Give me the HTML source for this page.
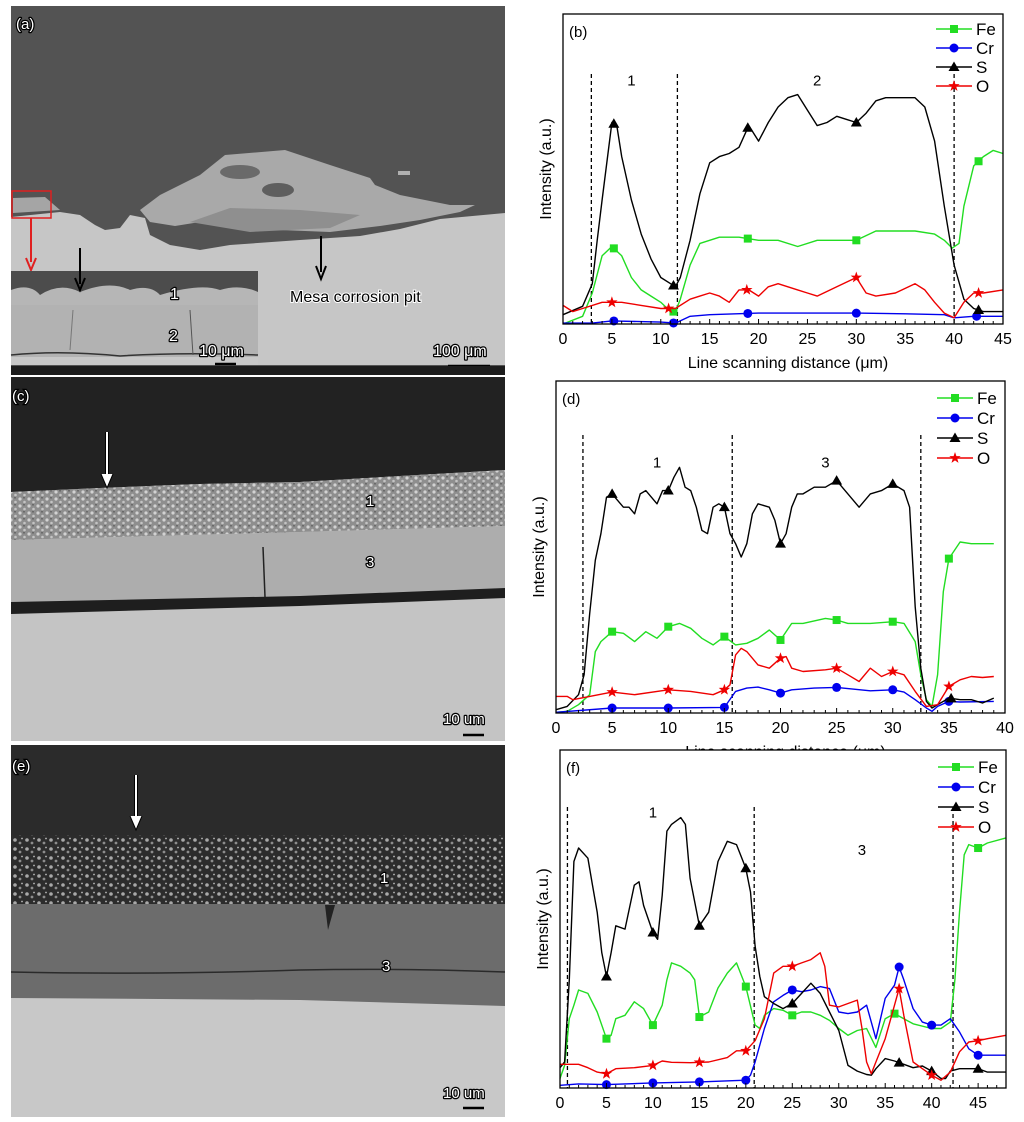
<!DOCTYPE html>
<html><head><meta charset="utf-8"><style>
body{margin:0;background:#fff;}
svg{display:block;font-family:"Liberation Sans",Arial,sans-serif;}
</style></head><body>
<svg id="fig" width="1024" height="1122" viewBox="0 0 1024 1122" xmlns="http://www.w3.org/2000/svg">
<defs>
<pattern id="speck" width="9" height="7" patternUnits="userSpaceOnUse">
<rect width="9" height="7" fill="#8e8e8e"/><circle cx="2" cy="2" r="1.6" fill="#d2d2d2"/><circle cx="6.5" cy="5" r="1.3" fill="#c4c4c4"/><rect x="5" y="0" width="2" height="1.5" fill="#6a6a6a"/>
</pattern>
<pattern id="speck2" width="12" height="9" patternUnits="userSpaceOnUse">
<rect width="12" height="9" fill="#2c2c2c"/><circle cx="3" cy="3" r="1.8" fill="#a8a8a8"/><circle cx="8" cy="6" r="1.4" fill="#8c8c8c"/><circle cx="10" cy="1.5" r="0.9" fill="#b8b8b8"/>
</pattern>
</defs>

<!-- Panel a -->
<g>
<rect x="11" y="6" width="494" height="369" fill="#535353"/>
<path d="M11,217 L60,212 L80,215 L95,225 L105,230 L120,228 L130,215 L145,218 L150,235 L170,245 L200,250 L230,245 L300,240 L360,236 L400,229 L440,219 L505,213 L505,365 L11,365 Z" fill="#c6c6c6"/>
<path d="M140,210 L160,195 L200,175 L225,155 L285,150 L330,165 L370,178 L375,185 L400,195 L450,205 L475,205 L460,212 L420,220 L380,226 L330,232 L280,230 L230,226 L200,222 L175,226 L150,222 Z" fill="#a9a9a9"/>
<ellipse cx="240" cy="172" rx="20" ry="7" fill="#6a6a6a"/>
<ellipse cx="278" cy="190" rx="16" ry="7" fill="#5e5e5e"/>
<path d="M190,222 L230,208 L300,210 L360,215 L330,228 L250,232 Z" fill="#8f8f8f"/>
<rect x="398" y="171" width="12" height="4" fill="#b0b0b0"/>
<path d="M13,198 L45,197 L60,210 L13,213 Z" fill="#a5a5a5"/>
<rect x="12" y="191" width="39" height="27" fill="none" stroke="#e02020" stroke-width="1.5"/>
<line x1="31" y1="218" x2="31" y2="262" stroke="#e02020" stroke-width="2"/>
<path d="M26,258 L31,270 L36,258" fill="none" stroke="#e02020" stroke-width="2"/>
<g>
<rect x="11" y="271" width="247" height="94" fill="#4c4c4c"/>
<path d="M11,290 Q30,283 40,295 Q60,282 80,292 Q110,280 130,290 Q150,284 160,295 Q200,283 220,290 Q240,284 258,292 L258,308 L11,308 Z" fill="#b6b6b6"/>
<rect x="11" y="305" width="247" height="52" fill="#b2b2b2"/>
<path d="M11,355 Q60,350 120,356 Q180,352 258,355" stroke="#333" stroke-width="1.5" fill="none"/>
<rect x="11" y="357" width="247" height="8" fill="#c8c8c8"/>
<line x1="73" y1="310" x2="70" y2="350" stroke="#777" stroke-width="1"/>
<line x1="190" y1="310" x2="193" y2="355" stroke="#555" stroke-width="1"/>
</g>
<line x1="80" y1="248" x2="80" y2="284" stroke="#000" stroke-width="2"/>
<path d="M75,278 L80,290 L85,278" fill="none" stroke="#000" stroke-width="2"/>
<line x1="321" y1="236" x2="321" y2="272" stroke="#000" stroke-width="2"/>
<path d="M316,266 L321,279 L326,266" fill="none" stroke="#000" stroke-width="2"/>
<g font-size="16" fill="#fff" stroke="#000" stroke-width="2.5" paint-order="stroke" stroke-linejoin="round">
<text x="170" y="299">1</text>
<text x="169" y="341">2</text>
<text x="199" y="356">10 μm</text>
<text x="433" y="356">100 μm</text>
<text x="16" y="29" font-size="15">(a)</text>
</g>
<text x="290" y="302" font-size="16" fill="#000" stroke="#fff" stroke-width="2" paint-order="stroke">Mesa corrosion pit</text>
<line x1="215" y1="364" x2="236" y2="364" stroke="#000" stroke-width="2.5"/>
<line x1="448" y1="366" x2="490" y2="366" stroke="#000" stroke-width="2.5"/>
<rect x="11" y="366" width="494" height="9" fill="#1c1c1c"/>
</g>

<!-- Panel c -->
<g>
<rect x="11" y="377" width="494" height="364" fill="#c4c4c4"/>
<path d="M11,377 L505,377 L505,470 L400,476 L300,482 L200,484 L100,488 L11,492 Z" fill="#222"/>
<path d="M11,492 L100,488 L200,484 L300,482 L400,476 L505,470 L505,526 L300,532 L11,540 Z" fill="url(#speck)"/>
<path d="M11,540 L300,532 L505,526 L505,518 L505,590 L300,597 L11,605 Z" fill="#adadad"/>
<line x1="263" y1="547" x2="265" y2="597" stroke="#222" stroke-width="1.5"/>
<path d="M11,602 L300,596 L505,588 L505,598 L300,606 L11,614 Z" fill="#1e1e1e"/>
<text x="12" y="401" font-size="15" fill="#fff" stroke="#000" stroke-width="2.5" paint-order="stroke">(c)</text>
<line x1="107" y1="432" x2="107" y2="480" stroke="#000" stroke-width="4"/><line x1="107" y1="432" x2="107" y2="480" stroke="#fff" stroke-width="2"/>
<path d="M101,474 L107,488 L113,474" fill="#fff" stroke="#000" stroke-width="1"/>
<g font-size="15" fill="#fff" stroke="#000" stroke-width="2.5" paint-order="stroke" stroke-linejoin="round">
<text x="366" y="506">1</text>
<text x="366" y="567">3</text>
<text x="443" y="724">10 um</text>
</g>
<line x1="463" y1="735" x2="484" y2="735" stroke="#000" stroke-width="2.5"/>
</g>

<!-- Panel e -->
<g>
<rect x="11" y="745" width="494" height="372" fill="#c8c8c8"/>
<rect x="11" y="745" width="494" height="90" fill="#2b2b2b"/>
<rect x="11" y="835" width="494" height="70" fill="url(#speck2)"/>
<path d="M11,904 L505,904 L505,1006 L300,1000 L11,998 Z" fill="#6c6c6c"/>
<path d="M11,972 Q150,975 300,970 Q400,968 505,972" stroke="#2a2a2a" stroke-width="1.5" fill="none"/>
<path d="M325,905 L335,905 L328,930 Z" fill="#222"/>
<text x="12" y="771" font-size="15" fill="#fff" stroke="#000" stroke-width="2.5" paint-order="stroke">(e)</text>
<line x1="136" y1="775" x2="136" y2="822" stroke="#000" stroke-width="4"/><line x1="136" y1="775" x2="136" y2="822" stroke="#fff" stroke-width="2"/>
<path d="M130,816 L136,830 L142,816" fill="#fff" stroke="#000" stroke-width="1"/>
<g font-size="15" fill="#fff" stroke="#000" stroke-width="2.5" paint-order="stroke" stroke-linejoin="round">
<text x="380" y="883">1</text>
<text x="382" y="971">3</text>
<text x="443" y="1098">10 um</text>
</g>
<line x1="463" y1="1108" x2="484" y2="1108" stroke="#000" stroke-width="2.5"/>
</g>

<g id="charts"></g>
</svg>
<script>
// ===== Chart (b) data =====
const bFeX=[0,2,3,4,5,6,7,8,9,10,11,11.5,12,13,14,16,18,20,22,24,26,28,30,32,34,36,38,39,39.8,40.5,41,42,43,44,45];
const bFeY=[0,2.5,10,22,25,22,15,11,9,7,4,4,8,19,26,28,28,27,27,25,27,27,27,30,30,30,29,27,24.5,26,38,51,54,56,55];
const bCrX=[0,3,5,10,11.5,13,15,20,25,30,35,39,40,42,45];
const bCrY=[0.3,0.3,1,0.6,0.3,2.5,3,3.5,3.5,3.5,3.3,3,2,2.5,2.5];
const bSX=[0,2,3,3.5,4,5,5.5,6,7,8,9,10,11,11.5,12,13,14,15,16,17,18,19,20,21,22,23,24,25,26,27,28,29,30,31,32,33,34,35,36,37,38,39,40,41,42,43,45];
const bSY=[3,5.7,13,27,40,65,64,54,40,29,21,15,13,12,15,27,42,52,54,55,57,64,59,65,70,73,74,69,64,65,67,66,65,68,72,73,73,73,73,70,59,38,19,8,5,4,4];
const bOX=[0,1,2,4,5,6,8,10,11.5,13,14,15,16,17,18,19,20,21,22,24,25,26,28,30,31,32,34,36,37,38,39,40,41,42,43,45];
const bOY=[6,4,5,7,7,7,6,5,5,8,9,10,9,7,11,11,9,12,13,11,10,9,12,15,10,9,10,13,11,7,3.5,2,7,10,10,11];
const bMarkFe=[5.2,11.3,18.9,30,42.5], bMarkCr=[5.2,11.3,18.9,30,42.3], bMarkS=[5.2,11.3,18.9,30,42.5], bMarkO=[5,10.8,18.8,30,42.5];
const bDividers=[2.9,11.7,40];
const bXTicks=[0,5,10,15,20,25,30,35,40,45];

// ===== Chart (d) data =====
const dSX=[0,1,2,2.5,3,3.5,4,4.5,5,6,6.5,7,7.5,8,9,9.5,10,10.5,11,11.5,12,12.5,13,13.5,14,14.5,15,15.5,16,16.5,17,17.5,18,19,19.5,20,20.5,21,21.5,22,23,24,25,26,27,28,29,30,31,31.5,32,32.5,33,33.5,34,35,36,37,38,39];
const dSY=[1,2,5.5,11.5,30,46,54,65,66,62,62,60,66,67,63,67,67,71,74,68,67,62,55,54,62,63,62,54,51,47,51,60,63,62,58,51,54,62,66,66,68,68,70,66,62,66,67,69,67,62,32,13.5,3.5,1.5,2.5,4.5,4,4,3,4.5];
const dFeX=[0,1,2,3,3.5,4,5,6,7,8,9,10,11,12,13,14,15,16,17,18,19,20,21,22,24,25,26,28,30,31,32,32.5,33,33.5,34,34.5,35,36,37,38,39];
const dFeY=[0.2,0.5,2.5,5.5,18.5,21.5,24.5,24,21.5,24.5,22.5,26,27,25.5,22.5,20.5,23,20.5,21,22.5,25,22,27,27,28.5,28,27,27,27.5,27,21.5,11.5,4,2,11.5,36.5,46.5,51.5,51,51,51];
const dOX=[0,1,1.5,3,5,7,10,12,14,15,15.5,16,16.5,17,18,19,20,20.5,21,22,24,25,26,27,28,29,30,31,32,33,34,35,36,37,38,39];
const dOY=[5,5,4,5,6.3,5.5,7,6.5,5.5,7,8.5,17.5,19.5,18.5,14.5,13.5,16.5,17,13.5,12.5,13,13.5,11.5,9.5,13.5,11,12.5,11.5,6.5,2,2.5,8,10,11,10.7,11];
const dCrX=[0,5,10,15,16,17,18,19,20,21,23,25,28,30,31,32,33,33.5,34,35,36,39];
const dCrY=[0.2,1.5,1.5,1.7,6.5,7.5,7.8,7,6,7,7.5,7.7,6.7,7,6.3,4,1.5,0.5,2,3.5,3.3,3.5];
const dMarkFe=[5,10,15,20,25,30,35], dMarkCr=[5,10,15,20,25,30,35], dMarkS=[5,10,15,20,25,30,35.2], dMarkO=[5,10,15,20,25,30,35];
const dDividers=[2.4,15.7,32.5];
const dXTicks=[0,5,10,15,20,25,30,35,40];

// ===== Chart (f) data =====
const fSX=[0,0.5,1,1.5,2,3,3.5,4,4.5,5,5.5,6,7,8,8.5,9,10,10.5,11,11.5,12,13,13.5,14,15,16,17,18,19,20,20.5,21,21.5,22,23,24,25,26,27,28,29,30,31,32,33,33.5,34,35,36,37,38,39,40,41,41.5,42,43,45,46,48];
const fSY=[6,7.7,32,67,71,68,60,52,40,33,40,48,47,60,61,54,46,44,57,76,78,80,78,62,48,52,67,73,72,65,58,42,33,27,25,23.5,25,28,31,28,22.5,17,6.7,5,4,3.8,5.7,8.7,8,7,6,6.5,5,2.8,2.8,5,5.7,5.7,4.7,4.7];
const fFeX=[0,0.5,1,1.5,2,3,4,5,5.5,6,7,8,9,10,11,11.5,12,13,14,14.5,15,16,17,18,19,20,21,21.5,22,23,24,25,26,27,28,29,30,31,32,33,34,35,36,37,38,40,41,42,42.5,43,43.5,44,45,46,48];
const fFeY=[2.8,6.7,20.5,24.5,29,28,22.5,14.6,15.6,20.5,21.5,25.5,23.5,18.6,24.5,32,37,36,34,32,21,22.5,29.6,34,37,30,18.6,17.6,21.5,23.5,23,21.5,22.5,22.5,21.5,20,17.6,15.6,17,17.6,12,20.5,22,20.5,19,17.6,17.6,19.5,32,52,69,72,71,72.5,74];
const fOX=[0,2,3,4,5,6,8,10,11,12,14,16,18,19,20,21,22,23,24,25,26,27,28,28.5,29,30,31,32,32.5,33,33.5,34,35,36,36.5,37,38,39,40,41,42,43,44,45,46,48];
const fOY=[7,7,6,4.7,4.2,5.7,6,6.7,8,7.6,7.5,7.7,9,11,11,14,20.5,34,36,36,37,38,40,36,24.5,24,25,26,17.6,7.7,4.2,7.7,14.6,24.5,29.4,21.5,7.7,5.7,3.8,2.3,4.7,10.7,13.6,14,14.6,15.6];
const fCrX=[0,2,5,10,15,20,20.5,21,22,23,24,25,26,27,28,29,30,31,32,33,34,35,36,36.5,37,38,39,40,41,42,43,44,45,46,48];
const fCrY=[0.8,1.2,1,1.5,1.8,2.3,3.8,7.7,17.6,25.5,27.4,29,28.5,29,30,29.4,22.5,22,22.5,24.5,14.6,26.5,30.4,35.8,32,23.5,19.5,18.6,18.6,20.5,16.6,11.6,9.7,9.7,9.7];
const fMarkFe=[5,10,15,20,25,36,45], fMarkCr=[5,10,15,20,25,36.5,40,45], fMarkS=[5,10,15,20,25,36.5,40,45], fMarkO=[5,10,15,20,25,36.5,40,45];
const fDividers=[0.8,20.9,42.3];
const fXTicks=[0,5,10,15,20,25,30,35,40,45];

const NS="http://www.w3.org/2000/svg";
const root=document.getElementById('charts');
function mk(tag,attrs,parent){const e=document.createElementNS(NS,tag);for(const k in attrs)e.setAttribute(k,attrs[k]);(parent||root).appendChild(e);return e;}
function interp(xs,ys,x){if(x<=xs[0])return ys[0];for(let i=1;i<xs.length;i++){if(x<=xs[i]){const t=(x-xs[i-1])/(xs[i]-xs[i-1]);return ys[i-1]+t*(ys[i]-ys[i-1]);}}return ys[ys.length-1];}
function marker(g,type,cx,cy,color){
  let e;
  if(type==='sq'){e=mk('rect',{x:cx-4,y:cy-4,width:8,height:8,fill:color},g);}
  else if(type==='ci'){e=mk('circle',{cx:cx,cy:cy,r:4.5,fill:color},g);}
  else if(type==='tr'){e=mk('path',{d:`M${cx},${cy-5.5}L${cx+5.5},${cy+4}L${cx-5.5},${cy+4}Z`,fill:color},g);}
  else{let d='';for(let i=0;i<10;i++){const r=i%2?2.4:6;const a=-Math.PI/2+i*Math.PI/5;d+=(i?'L':'M')+(cx+r*Math.cos(a)).toFixed(1)+','+(cy+r*Math.sin(a)).toFixed(1);}e=mk('path',{d:d+'Z',fill:color},g);}
  return e;
}
function chart(c){
  const g=mk('g',{});
  
  
  const X=v=>c.L+(v-c.x0)/(c.x1-c.x0)*(c.R-c.L);
  const Y=v=>c.B-v/100*(c.B-c.T);
  const bg=mk('rect',{x:c.L,y:c.T,width:c.R-c.L,height:c.B-c.T,fill:'#fff'},g);
  
  
  c.div.forEach(d=>{const l=mk('line',{x1:X(d),x2:X(d),y1:c.divTop,y2:c.B,stroke:'#000','stroke-width':1.3,'stroke-dasharray':'4,3'},g);
    
    });
  c.series.forEach(s=>{
    let d='';s.x.forEach((xv,i)=>{d+=(i?'L':'M')+X(xv).toFixed(1)+','+Y(s.y[i]).toFixed(1);});
    const p=mk('path',{d:d,fill:'none',stroke:s.color,'stroke-width':1.4,'stroke-linejoin':'round'},g);
    
    
    s.marks.forEach(mx=>{const m=marker(g,s.type,X(mx),Y(interp(s.x,s.y,mx)),s.color);
      
      });
  });
  const frame=mk('rect',{x:c.L,y:c.T,width:c.R-c.L,height:c.B-c.T,fill:'none',stroke:'#000','stroke-width':1.3},g);
  
  
  for(let v=Math.ceil(c.x0);v<=c.x1;v++){const maj=c.ticks.includes(v);mk('line',{x1:X(v),x2:X(v),y1:c.B,y2:c.B-(maj?5:3),stroke:'#000','stroke-width':1},g);}
  c.ticks.forEach(t=>{const tx=mk('text',{x:X(t),y:c.B+20,'font-size':16,'text-anchor':'middle'},g);tx.textContent=t;
    
    });
  if(c.xtitle){const xt=mk('text',{x:(c.L+c.R)/2+5,y:c.B+44,'font-size':16,'text-anchor':'middle'},g);xt.textContent='Line scanning distance (μm)';
    
    }
  const yt=mk('text',{x:0,y:0,'font-size':16,'text-anchor':'middle',transform:`translate(${c.L-12},${(c.T+c.B)/2}) rotate(-90)`},g);yt.textContent='Intensity (a.u.)';
  
  
  const pl=mk('text',{x:c.L+6,y:c.T+23,'font-size':15},g);pl.textContent=c.label;
  
  
  c.regions.forEach(r=>{const t=mk('text',{x:X(r[0]),y:Y(r[1]),'font-size':15,'text-anchor':'middle'},g);t.textContent=r[2];
    
    });
  c.series.forEach((s,i)=>{const ly=c.legY+i*c.legDy;const lg=mk('g',{},g);
    
    
    mk('line',{x1:c.legX,x2:c.legX+36,y1:ly,y2:ly,stroke:s.color,'stroke-width':1.4},lg);
    marker(lg,s.type,c.legX+18,ly,s.color);
    const t=mk('text',{x:c.legX+40,y:ly+6,'font-size':17},lg);t.textContent=s.name;});
}
function S(key,name,color,type,x,y,marks){return {key,name,color,type,x,y,marks};}
chart({name:'chart-b',label:'(b)',L:563,R:1003,T:14,B:324,x0:0,x1:45,ticks:bXTicks,xtitle:true,div:bDividers,divTop:74,
  regions:[[7,77,'1'],[26,77,'2']],legX:936,legY:29,legDy:19,
  series:[S('fe','Fe','#22dd22','sq',bFeX,bFeY,bMarkFe),S('cr','Cr','#0000ee','ci',bCrX,bCrY,bMarkCr),S('s','S','#000','tr',bSX,bSY,bMarkS),S('o','O','#ee0000','st',bOX,bOY,bMarkO)]});
chart({name:'chart-d',label:'(d)',L:556,R:1005,T:381,B:713,x0:0,x1:40,ticks:dXTicks,xtitle:true,div:dDividers,divTop:435,
  regions:[[9,74,'1'],[24,74,'3']],legX:937,legY:398,legDy:20,
  series:[S('fe','Fe','#22dd22','sq',dFeX,dFeY,dMarkFe),S('cr','Cr','#0000ee','ci',dCrX,dCrY,dMarkCr),S('s','S','#000','tr',dSX,dSY,dMarkS),S('o','O','#ee0000','st',dOX,dOY,dMarkO)]});
chart({name:'chart-f',label:'(f)',L:560,R:1006,T:750,B:1088,x0:0,x1:48,ticks:fXTicks,xtitle:false,div:fDividers,divTop:807,
  regions:[[10,80,'1'],[32.5,69,'3']],legX:938,legY:767,legDy:20,
  series:[S('fe','Fe','#22dd22','sq',fFeX,fFeY,fMarkFe),S('cr','Cr','#0000ee','ci',fCrX,fCrY,fMarkCr),S('s','S','#000','tr',fSX,fSY,fMarkS),S('o','O','#ee0000','st',fOX,fOY,fMarkO)]});
</script>
</body></html>
